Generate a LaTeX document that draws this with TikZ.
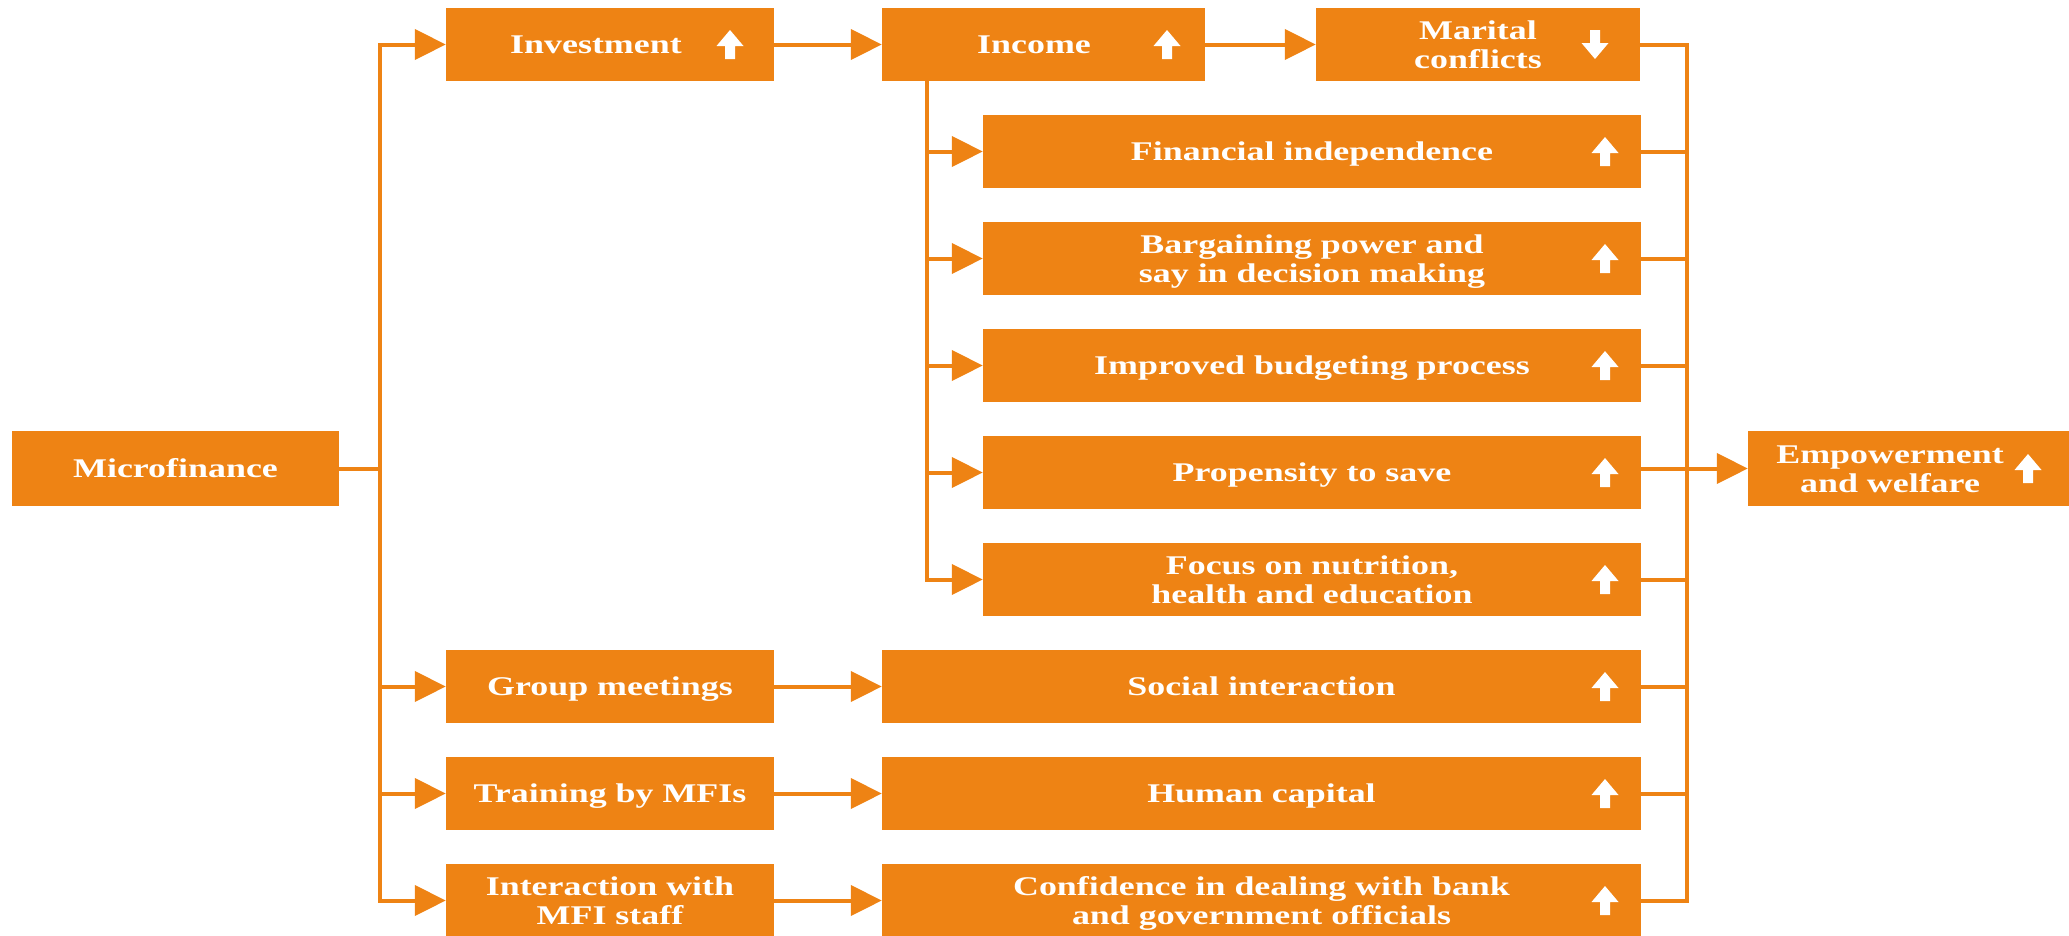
\documentclass[tikz,border=0pt]{standalone}
\usepackage{fontspec}
\usetikzlibrary{arrows.meta}
\newfontfamily\lblfont[FakeStretch=1.33]{Liberation Serif}
\definecolor{brand}{RGB}{238,131,20}
\tikzset{
  txt/.style={text=white, align=center, text height=24pt, text depth=6pt,
    font=\lblfont\bfseries\fontsize{27}{29}\selectfont},
  twoline/.style={text height=53pt, text depth=6pt},
  box/.style={rectangle, fill=brand, draw=none, inner sep=0pt, minimum height=73pt, txt},
  lbl/.style={inner sep=0pt, txt},
  conn/.style={draw=brand, line width=4pt},
  arr/.style={conn, -{Triangle[length=31pt,width=30pt]}},
  uarr/.pic={\fill[white] (0,-14.5) -- (13.5,1.5) -- (5,1.5) -- (5,14.5) -- (-5,14.5) -- (-5,1.5) -- (-13.5,1.5) -- cycle;},
  darr/.pic={\fill[white] (0,14.5) -- (13.5,-1.5) -- (5,-1.5) -- (5,-14.5) -- (-5,-14.5) -- (-5,-1.5) -- (-13.5,-1.5) -- cycle;}
}
\begin{document}
\begin{tikzpicture}[x=1pt,y=-1pt]
\useasboundingbox (0,0) rectangle (2069,935);

% source
\node[box, minimum width=327pt, minimum height=75pt] (mf) at (175.5,468.5) {Microfinance};

% first-level channels
\node[box, minimum width=328pt] (inv) at (610,44.5) {};
\node[lbl] (invT) at ([xshift=-14]inv.center) {Investment};
\node[box, minimum width=328pt] (grp) at (610,686.5) {Group meetings};
\node[box, minimum width=328pt] (trn) at (610,793.5) {Training by MFIs};
\node[box, twoline, minimum width=328pt] (itr) at (610,900.5) {Interaction with\\MFI staff};

% income and its effects
\node[box, minimum width=323pt] (inc) at (1043.5,44.5) {};
\node[lbl] (incT) at ([xshift=-9.5]inc.center) {Income};
\node[box, twoline, minimum width=324pt] (mar) at (1478,44.5) {Marital\\conflicts};
\node[box, minimum width=658pt] (fin) at (1312,151.5) {Financial independence};
\node[box, twoline, minimum width=658pt] (barg) at (1312,258.5) {Bargaining power and\\say in decision making};
\node[box, minimum width=658pt] (bud) at (1312,365.5) {Improved budgeting process};
\node[box, minimum width=658pt] (sav) at (1312,472.5) {Propensity to save};
\node[box, twoline, minimum width=658pt] (nut) at (1312,579.5) {Focus on nutrition,\\health and education};

% other outcomes
\node[box, minimum width=759pt] (soc) at (1261.5,686.5) {Social interaction};
\node[box, minimum width=759pt] (hum) at (1261.5,793.5) {Human capital};
\node[box, twoline, minimum width=759pt] (conf) at (1261.5,900.5) {Confidence in dealing with bank\\and government officials};

% final outcome
\node[box, minimum width=321pt, minimum height=75pt] (emp) at (1908.5,468.5) {};
\node[lbl, twoline] (empT) at ([xshift=-18.5]emp.center) {Empowerment\\and welfare};

% direction markers
\pic at (730,44.5) {uarr};
\pic at (1167,44.5) {uarr};
\pic at (1595,44.5) {darr};
\foreach \yy in {151.5,258.5,365.5,472.5,579.5,686.5,793.5,900.5}
  \pic at (1605,\yy) {uarr};
\pic at (2028,468.5) {uarr};

% trunk from microfinance
\coordinate (tr) at (379.5,0);
\draw[conn] (mf.east) -- (mf.east -| tr);
\draw[arr] (itr.west -| tr) |- (inv.west);
\draw[arr] (inv.west -| tr) |- (itr.west);
\draw[arr] (grp.west -| tr) -- (grp.west);
\draw[arr] (trn.west -| tr) -- (trn.west);

% chains
\draw[arr] (inv.east) -- (inc.west);
\draw[arr] (inc.east) -- (mar.west);
\draw[arr] (grp.east) -- (soc.west);
\draw[arr] (trn.east) -- (hum.west);
\draw[arr] (itr.east) -- (conf.west);

% income branch
\coordinate (br) at (927,0);
\draw[arr] (inc.south -| br) |- (nut.west);
\foreach \n in {fin,barg,bud,sav}
  \draw[arr] (\n.west -| br) -- (\n.west);

% collector towards empowerment
\coordinate (col) at (1686.5,0);
\draw[conn] (mar.east) -| (conf.east -| col) -- (conf.east);
\foreach \n in {fin,barg,bud,nut,soc,hum}
  \draw[conn] (\n.east) -- ([xshift=2]\n.east -| col);
\draw[arr] (sav.east |- emp.west) -- (emp.west);
\end{tikzpicture}
\end{document}
